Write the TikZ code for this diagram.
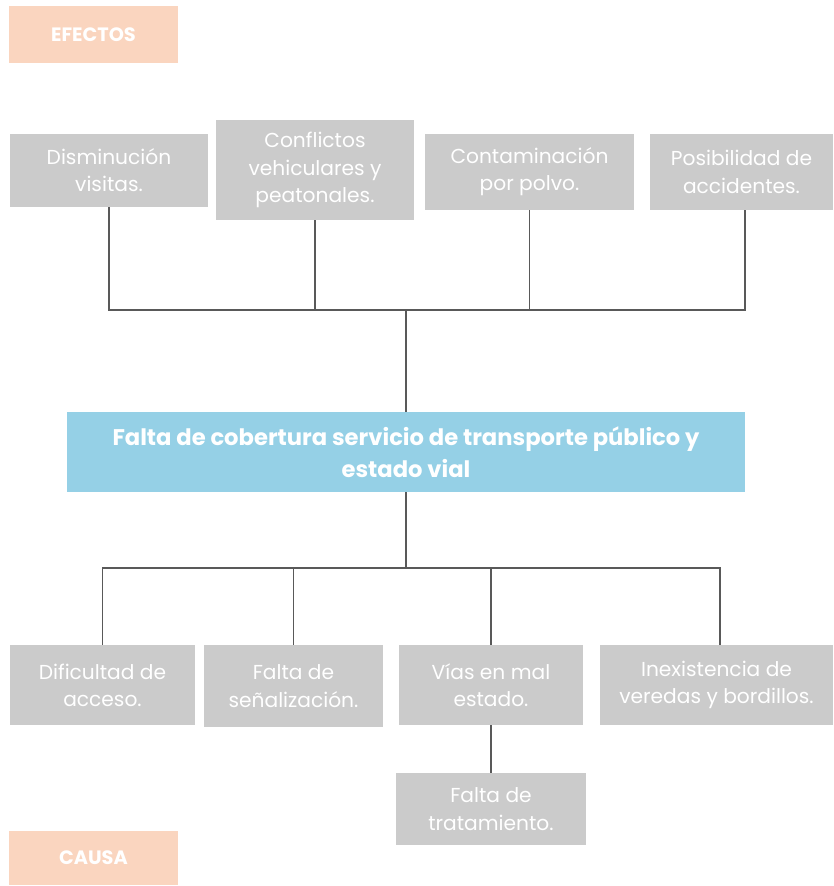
\documentclass[tikz,border=0pt]{standalone}
\usepackage{fontspec}
\setmainfont{Poppins}
\usepackage{tikz}
\definecolor{peach}{HTML}{FAD5BF}
\definecolor{boxgrey}{HTML}{CBCBCB}
\definecolor{skyblue}{HTML}{95D0E6}
\definecolor{wire}{HTML}{595959}

\begin{document}
\begin{tikzpicture}[x=0.02cm, y=-0.02cm,
    tagbox/.style={fill=peach, text=white, inner sep=0pt, font=\bfseries\fontsize{11}{13}\selectfont},
    greybox/.style={fill=boxgrey, text=white, inner sep=0pt, align=center, font=\fontsize{11.5}{15.5}\selectfont},
    corebox/.style={fill=skyblue, text=white, inner sep=0pt, align=center, font=\bfseries\fontsize{12.9}{18}\selectfont},
    wireline/.style={draw=wire, line width=0.85pt}]
    \useasboundingbox (0,0) rectangle (834,886);

    % labels
    \node[tagbox, minimum width=3.38cm, minimum height=1.14cm] (efectos) at (93.5,34.5) {EFECTOS};
    \node[tagbox, minimum width=3.38cm, minimum height=1.08cm] (causa) at (93.5,858) {CAUSA};

    % effects
    \node[greybox, minimum width=3.96cm, minimum height=1.46cm] (dism) at (109,170.5) {Disminución\\visitas.};
    \node[greybox, minimum width=3.96cm, minimum height=2.00cm] (conf) at (315,170) {Conflictos\\vehiculares y\\peatonales.};
    \node[greybox, minimum width=4.18cm, minimum height=1.52cm] (cont) at (529.5,172) {Contaminación\\por polvo.};
    \node[greybox, minimum width=3.66cm, minimum height=1.52cm] (posi) at (741.5,172) {Posibilidad de\\accidentes.};

    % problem
    \node[corebox, minimum width=13.56cm, minimum height=1.60cm] (core) at (406,452) {Falta de cobertura servicio de transporte público y\\estado vial};

    % causes
    \node[greybox, minimum width=3.70cm, minimum height=1.60cm] (difi) at (102.5,685) {Dificultad de\\acceso.};
    \node[greybox, minimum width=3.58cm, minimum height=1.64cm] (senal) at (293.5,686) {Falta de\\señalización.};
    \node[greybox, minimum width=3.68cm, minimum height=1.60cm] (vias) at (491,685) {Vías en mal\\estado.};
    \node[greybox, minimum width=4.66cm, minimum height=1.60cm] (inex) at (716.5,685) {Inexistencia de\\veredas y bordillos.};
    \node[greybox, minimum width=3.80cm, minimum height=1.44cm] (trat) at (491,809) {Falta de\\tratamiento.};

    % wiring
    \coordinate (topbus) at (406,310);
    \coordinate (lowbus) at (406,568);
    \draw[wireline] (dism.south) |- (topbus) -| ([xshift=0.07cm]posi.south);
    \draw[wireline] (conf.south) -- (conf.south |- topbus);
    \draw[wireline] (cont.south) -- (cont.south |- topbus);
    \draw[wireline] (topbus) -- (core.north);
    \draw[wireline] (core.south) -- (lowbus);
    \draw[wireline] (difi.north) |- (lowbus) -| ([xshift=0.07cm]inex.north);
    \draw[wireline] (senal.north) -- (senal.north |- lowbus);
    \draw[wireline] (vias.north) -- (vias.north |- lowbus);
    \draw[wireline] (vias.south) -- (trat.north);
\end{tikzpicture}
\end{document}
